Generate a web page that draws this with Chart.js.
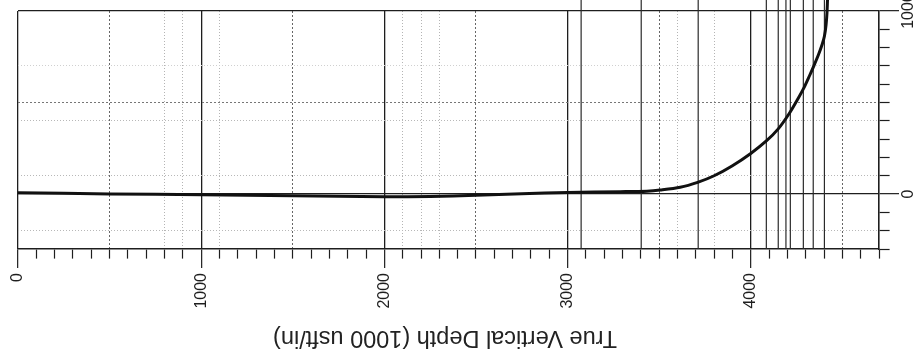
<!DOCTYPE html>
<html>
<head>
<meta charset="utf-8">
<script src="https://cdn.jsdelivr.net/npm/chart.js@4.4.1/dist/chart.umd.min.js"></script>
<style>
html,body{margin:0;padding:0;background:#fff;}
#wrap{position:relative;width:922px;height:356px;overflow:hidden;}
#title{position:absolute;left:0;top:326px;width:890px;height:26px;line-height:26px;text-align:center;
  font-family:"Liberation Sans",Arial,sans-serif;font-size:23.5px;color:#222;transform:rotate(180deg);}
</style>
</head>
<body>
<div id="wrap">
  <canvas id="c" width="922" height="356"></canvas>
  <div id="title">True Vertical Depth (1000 usft/in)</div>
</div>
<script>
// ---- data ----
const tvd = [0, 500, 1000, 1500, 2000, 2250, 2500, 2750, 3000, 3287, 3433, 3506, 3615, 3710, 3800, 3900, 4000, 4085, 4150, 4210, 4260, 4290, 4320, 4345, 4370, 4390, 4402, 4411, 4416, 4419];
const verticalSection = [7, 1, -4, -9, -14, -13, -7, 2, 9, 13, 16, 22, 37, 64, 100, 155, 222, 290, 356, 440, 525, 580, 645, 702, 762, 818, 862, 925, 990, 1060];
const formationTops = [3074, 3402, 3713, 4085, 4150, 4192, 4216, 4287, 4341, 4402];
const formationSpan = [-300, 1060];
const xTickLabels = [0, 1000, 2000, 3000, 4000];
const yTickLabels = [0, 1000];
const xDottedMajor = [500, 1500, 2500, 3500, 4500];
const xDottedLight = [800, 900, 1100, 2100, 2200, 2300, 3600, 3800];
const yDottedMajor = [500];
const yDottedLight = [700, 400, 100, -200];

const FONT = '"Liberation Sans", Arial, sans-serif';
const INK = '#1e1e1e';

function tv(c) { return c && c.tick ? Math.round(c.tick.value) : null; }

const datasets = [{
  label: 'Well path',
  data: tvd.map((x, i) => ({ x: x, y: verticalSection[i] })),
  showLine: true,
  borderColor: '#111',
  borderWidth: 3,
  pointRadius: 0,
  tension: 0.3,
  clip: false
}];
formationTops.forEach(t => {
  datasets.push({
    label: 'Top ' + t,
    data: formationSpan.map(y => ({ x: t, y: y })),
    showLine: true,
    borderColor: '#2a2a2a',
    borderWidth: 1.2,
    pointRadius: 0,
    clip: false
  });
});

new Chart(document.getElementById('c'), {
  type: 'scatter',
  data: { datasets: datasets },
  options: {
    responsive: false,
    animation: false,
    devicePixelRatio: 1,
    layout: { padding: { left: 18, top: 11, right: 0, bottom: 0 } },
    plugins: { legend: { display: false }, tooltip: { enabled: false } },
    scales: {
      x: {
        type: 'linear', min: 0, max: 4700, position: 'bottom',
        afterFit: s => { s.height = 107; },
        ticks: {
          stepSize: 100, autoSkip: false, minRotation: 90, maxRotation: 90, padding: 5,
          color: INK, font: { family: FONT, size: 16 },
          callback: v => xTickLabels.includes(Math.round(v)) ? String(Math.round(v)) : ''
        },
        grid: {
          color: c => {
            const v = tv(c);
            if (v === null) return 'rgba(0,0,0,0)';
            if (xTickLabels.includes(v)) return INK;
            if (xDottedMajor.includes(v)) return '#666';
            if (xDottedLight.includes(v)) return '#b4b4b4';
            return 'rgba(0,0,0,0)';
          },
          lineWidth: c => xTickLabels.includes(tv(c)) ? 1.3 : 1,
          tickColor: INK, tickWidth: 1.2, tickLength: 19,
          tickBorderDash: c => xTickLabels.includes(tv(c)) ? [] : [9, 40]
        },
        border: {
          display: true, color: INK, width: 1.6,
          dash: c => {
            const v = tv(c);
            if (v === null || xTickLabels.includes(v)) return [];
            if (xDottedMajor.includes(v)) return [2, 2];
            return [1, 2];
          }
        }
      },
      y: {
        type: 'linear', min: -300, max: 1000, position: 'right',
        afterFit: s => { s.width = 43; },
        ticks: {
          stepSize: 100, autoSkip: false, minRotation: 90, maxRotation: 90,
          crossAlign: 'center', padding: -8,
          color: INK, font: { family: FONT, size: 16 },
          callback: v => yTickLabels.includes(Math.round(v)) ? String(Math.round(v)) : ''
        },
        grid: {
          color: c => {
            const v = tv(c);
            if (v === null) return 'rgba(0,0,0,0)';
            if (yTickLabels.includes(v)) return INK;
            if (yDottedMajor.includes(v)) return '#777';
            if (v === 700) return '#d0d0d0';
            if (yDottedLight.includes(v)) return '#b8b8b8';
            return 'rgba(0,0,0,0)';
          },
          lineWidth: c => yTickLabels.includes(tv(c)) ? 1.3 : 1,
          tickColor: INK, tickWidth: 1.2, tickLength: 20,
          tickBorderDash: c => yTickLabels.includes(tv(c)) ? [] : [10, 40]
        },
        border: {
          display: true, color: INK, width: 1.6,
          dash: c => {
            const v = tv(c);
            if (v === null || yTickLabels.includes(v)) return [];
            if (yDottedMajor.includes(v)) return [2, 2];
            return [1, 2];
          }
        }
      }
    }
  }
});
</script>
</body>
</html>
